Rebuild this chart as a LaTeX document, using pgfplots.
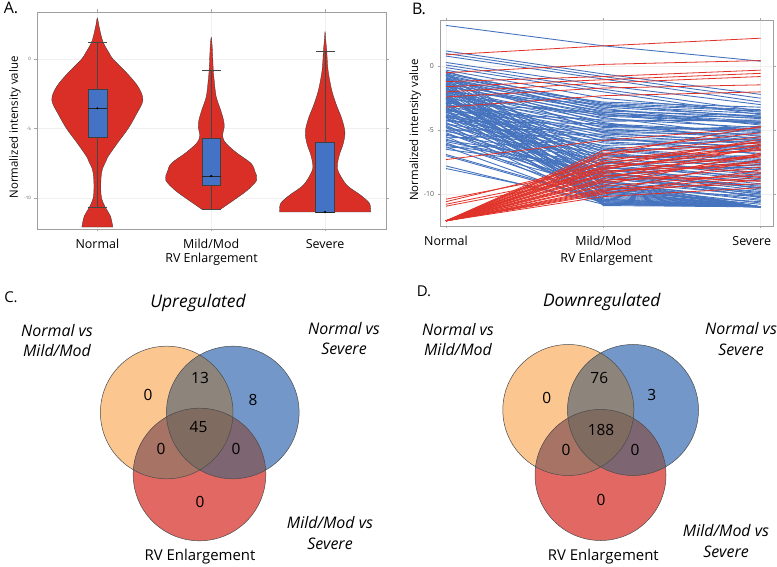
\documentclass[border=0pt]{standalone}
\usepackage{pgfplots}
\pgfplotsset{compat=1.18}
\usepgfplotslibrary{statistics}
\usepackage{pgfplotstable}
\usepackage{fontspec}
\setmainfont{Open Sans}

\definecolor{vred}{RGB}{217,47,39}
\definecolor{bblue}{RGB}{68,114,196}
\definecolor{lblue}{RGB}{70,115,190}
\definecolor{lred}{RGB}{224,50,40}
\definecolor{vO}{RGB}{252,198,145}
\definecolor{vB}{RGB}{114,151,200}
\definecolor{vR}{RGB}{226,105,99}
\definecolor{vOB}{RGB}{141,133,124}
\definecolor{vOR}{RGB}{166,115,100}
\definecolor{vBR}{RGB}{125,101,114}
\definecolor{vOBR}{RGB}{127,107,96}

% Panel B: one row per protein (Normal, Mild/Mod, Severe)
\pgfplotstableread{
n m s
3.2 1.6 0.4
1.2 -0.6 -2.2
1.0 -0.8 -2.5
0.8 -1.0 -2.8
0.3 -1.5 -3.0
0.1 -1.8 -3.5
-0.1 -2.0 -3.8
-0.3 -2.5 -3.6
-0.5 -3.0 -4.0
-0.7 -3.2 -3.9
-0.9 -3.4 -4.1
-1.0 -3.6 -4.3
-1.2 -3.3 -4.6
-1.3 -3.9 -4.4
-1.5 -4.1 -4.8
-1.6 -3.7 -5.0
-1.8 -4.3 -4.2
-1.9 -4.6 -5.2
-2.1 -4.0 -5.5
-2.2 -4.8 -4.9
-2.4 -5.0 -5.6
-2.5 -4.4 -5.9
-2.7 -5.2 -5.3
-2.8 -5.4 -6.1
-3.0 -4.7 -5.0
-3.1 -5.6 -6.4
-3.3 -5.8 -5.7
-3.4 -5.1 -4.7
-3.6 -6.0 -6.6
-3.8 -6.2 -5.8
-4.0 -5.5 -6.9
-4.2 -6.4 -7.2
-4.5 -6.6 -6.2
-4.8 -6.9 -7.5
-5.1 -7.1 -7.0
-5.4 -7.3 -7.8
-5.8 -7.6 -8.1
-6.2 -7.9 -8.6
-6.5 -8.1 -9.0
-0.8 -7.8 -9.6
-1.0 -8.2 -10.3
-1.1 -8.9 -11.0
-1.3 -9.3 -11.0
-1.4 -9.8 -10.6
-1.6 -10.4 -11.0
-1.7 -8.5 -9.9
-1.9 -9.0 -11.0
-2.0 -9.6 -10.8
-2.2 -10.0 -11.0
-2.3 -10.6 -11.0
-2.5 -8.7 -10.2
-2.6 -9.2 -11.0
-2.8 -9.9 -11.0
-2.9 -10.7 -11.0
-3.1 -8.4 -9.5
-3.2 -9.4 -11.0
-3.4 -10.2 -11.0
-3.5 -10.8 -11.0
-3.7 -9.1 -10.4
-3.9 -9.7 -11.0
-4.0 -10.5 -11.0
-4.2 -8.8 -9.8
-4.4 -9.5 -11.0
-4.6 -10.3 -11.0
-4.8 -10.8 -11.0
-5.0 -9.0 -10.1
-5.2 -9.8 -11.0
-5.5 -10.6 -11.0
-5.7 -9.3 -10.7
-6.0 -10.1 -11.0
-6.3 -10.7 -11.0
-6.9 -10.4 -11.0
-7.8 -10.8 -11.0
-8.0 -10.6 -11.0
-0.5 -7.5 -8.8
-1.5 -7.9 -9.2
-2.4 -8.1 -9.4
-3.6 -7.7 -8.9
-4.5 -8.3 -9.7
-1.2 -10.9 -11.0
-2.1 -10.75 -11.0
-0.6 -8.6 -10.0
-2.7 -7.4 -8.5
-3.3 -8.0 -7.9
-4.1 -7.5 -8.3
-5.3 -8.6 -9.3
-6.1 -9.5 -10.2
-0.9 -6.8 -7.6
-1.7 -6.5 -7.3
-2.6 -6.9 -8.0
-3.9 -7.0 -7.7
-0.6 -2.9 -3.4
-0.8 -3.1 -3.7
-1.1 -2.8 -3.2
-1.4 -3.5 -3.9
-2.0 -3.0 -3.5
-2.3 -3.8 -4.0
-2.9 -3.6 -4.5
-3.5 -4.2 -4.3
-4.3 -4.5 -5.1
-5.0 -4.9 -5.4
-5.6 -5.3 -5.8
-6.4 -5.7 -6.3
-1.0 -4.5 -5.7
-0.7 -5.2 -6.0
-1.8 -5.9 -6.5
-2.6 -6.3 -6.8
-0.4 -3.8 -4.4
-7.0 -10.5 -11.0
-1.5 -9.1 -10.5
-2.4 -9.7 -11.0
-3.0 -10.4 -11.0
-3.8 -8.6 -10.0
-4.7 -9.9 -11.0
-1.9 -7.2 -8.4
-3.4 -6.6 -7.4
-5.9 -8.3 -9.5
}\bluetab

\pgfplotstableread{
n m s
0.9 1.6 2.2
-0.5 0.15 0.45
-1.2 -0.8 -0.3
-1.6 -1.05 -0.55
-2.0 -1.3 -0.8
-2.4 -1.7 -1.45
-3.2 -2.3 -2.0
-12.1 -10.2 -9.5
-12.1 -9.9 -8.9
-12.1 -9.6 -9.2
-12.1 -9.4 -8.4
-12.1 -9.1 -7.9
-12.1 -8.9 -8.6
-12.1 -8.6 -7.4
-12.1 -8.4 -6.9
-12.1 -8.2 -7.7
-12.1 -8.0 -6.5
-12.1 -7.8 -7.1
-12.1 -7.6 -6.2
-12.1 -7.4 -5.9
-12.1 -7.2 -6.6
-12.1 -7.0 -5.5
-12.1 -6.8 -6.0
-12.1 -6.6 -5.2
-12.1 -9.8 -7.3
-12.1 -8.8 -6.3
-12.1 -7.9 -5.7
-12.1 -9.3 -6.8
-12.1 -10.0 -8.1
-12.1 -8.5 -9.0
-12.1 -7.5 -8.3
-12.1 -6.9 -4.7
-12.1 -9.0 -7.0
-12.1 -8.1 -6.1
-12.1 -9.7 -8.7
-10.4 -8.0 -6.4
-10.6 -7.6 -5.9
-10.8 -8.3 -7.0
-10.95 -8.6 -7.5
-7.3 -5.8 -4.8
}\redtab

\pgfplotstablegetrowsof{\bluetab}
\pgfmathtruncatemacro{\nblue}{\pgfplotsretval-1}
\pgfplotstablegetrowsof{\redtab}
\pgfmathtruncatemacro{\nred}{\pgfplotsretval-1}

\pgfplotsset{
  gg/.style={
    scale only axis, anchor=south west,
    axis line style={draw=gray!75, line width=0.7bp},
    xmajorgrids, ymajorgrids,
    major grid style={draw=gray!12, line width=0.5bp},
    tick style={draw=gray!70, line width=0.5bp},
    tick align=outside, major tick length=2.5bp,
    xtick={1,2,3},
    ytick={-10,-5,0}, yticklabels={-10,-5,0},
    yticklabel style={text=gray!70!black},
    xticklabel style={font=\fontsize{12.5}{14}\selectfont, text=black, yshift=-4bp},
    label style={font=\fontsize{11.5}{13}\selectfont},
    xlabel={RV Enlargement}, ylabel={Normalized intensity value},
  },
  venn/.style={scale only axis, anchor=south west, axis lines=none, clip=false,
    y dir=reverse, ymin=270, ymax=567},
}

\begin{document}
\begin{tikzpicture}
\useasboundingbox (0,0) rectangle (777bp,567bp);

% ---------------- Panel A ----------------
\begin{axis}[gg, at={(37bp,338bp)}, width=349bp, height=217bp,
  xmin=0.47, xmax=3.535, ymin=-12.23, ymax=3.41,
  xticklabels={Normal,Mild/Mod,Severe},
  yticklabel style={font=\fontsize{4.5}{5}\selectfont},
  xlabel style={at={(axis description cs:0.5,-0.14)}, anchor=center, font=\fontsize{12.5}{14}\selectfont},
  ylabel style={at={(axis description cs:-0.063,0.468)}, anchor=center},
  violin/.style={fill=vred, draw=gray!40!black, line width=0.3bp, smooth, tension=0.55},
  boxplot/draw direction=y,
  boxplot/box extend=0.166, boxplot/whisker extend=0.166,
  boxplot/every box/.style={fill=bblue, draw=gray!50!black, line width=0.35bp},
  boxplot/every whisker/.style={draw=gray!55!black, line width=0.35bp},
  boxplot/every median/.style={draw=black!85, line width=0.5bp},
]
\addplot[violin] coordinates {
 (1.136,-12.09) (1.115,-11.3) (1.07,-10.67) (1.037,-10.0) (1.03,-9.3) (1.033,-8.5)
 (1.045,-7.9) (1.08,-7.27) (1.095,-7.0) (1.18,-6.0) (1.27,-5.0) (1.34,-4.0) (1.40,-2.95)
 (1.36,-2.0) (1.26,-1.0) (1.14,0) (1.10,0.5) (1.05,1.25) (1.025,2.0) (1.012,2.5) (1.0,2.98)
 (0.988,2.5) (0.975,2.0) (0.95,1.25) (0.90,0.5) (0.86,0) (0.74,-1.0) (0.64,-2.0) (0.60,-2.95)
 (0.66,-4.0) (0.73,-5.0) (0.82,-6.0) (0.905,-7.0) (0.92,-7.27) (0.955,-7.9) (0.967,-8.5)
 (0.97,-9.3) (0.963,-10.0) (0.93,-10.67) (0.885,-11.3) (0.864,-12.09)} -- cycle;
\addplot[violin] coordinates {
 (2.08,-10.82) (2.20,-10.14) (2.32,-9.42) (2.40,-8.70) (2.385,-8.1) (2.35,-7.5) (2.23,-6.78)
 (2.16,-6.3) (2.115,-5.9) (2.10,-5.45) (2.114,-4.9) (2.108,-4.38) (2.083,-3.66) (2.044,-2.7)
 (2.026,-1.5) (2.018,-0.77) (2.014,0) (2.008,1.0) (2.0,1.59)
 (1.992,1.0) (1.986,0) (1.982,-0.77) (1.974,-1.5) (1.956,-2.7) (1.917,-3.66) (1.892,-4.38)
 (1.886,-4.9) (1.90,-5.45) (1.885,-5.9) (1.84,-6.3) (1.77,-6.78) (1.65,-7.5) (1.615,-8.1)
 (1.60,-8.70) (1.68,-9.42) (1.80,-10.14) (1.92,-10.82)} -- cycle;
\addplot[violin] coordinates {
 (3.40,-11.0) (3.39,-10.38) (3.31,-9.78) (3.19,-9.06) (3.117,-8.10) (3.108,-7.62) (3.125,-6.90)
 (3.16,-6.06) (3.174,-5.22) (3.146,-4.26) (3.10,-3.30) (3.058,-2.21) (3.026,-0.77) (3.015,0.58)
 (3.007,1.3) (3.0,1.99)
 (2.993,1.3) (2.985,0.58) (2.974,-0.77) (2.942,-2.21) (2.90,-3.30) (2.854,-4.26) (2.826,-5.22)
 (2.84,-6.06) (2.875,-6.90) (2.892,-7.62) (2.883,-8.10) (2.81,-9.06) (2.69,-9.78) (2.61,-10.38)
 (2.60,-11.0)} -- cycle;
\addplot[boxplot prepared={draw position=1, lower whisker=-10.67, lower quartile=-5.58,
  median=-3.53, upper quartile=-2.16, upper whisker=1.22}] coordinates {};
\addplot[boxplot prepared={draw position=2, lower whisker=-10.82, lower quartile=-9.07,
  median=-8.41, upper quartile=-5.70, upper whisker=-0.79}] coordinates {};
\addplot[boxplot prepared={draw position=3, lower whisker=-11.0, lower quartile=-11.0,
  median=-11.0, upper quartile=-5.94, upper whisker=0.58}] coordinates {};
\addplot[only marks, mark=*, mark size=0.8bp, black] coordinates {(1,-3.53) (2,-8.41) (3,-11.0)};
\end{axis}

% ---------------- Panel B ----------------
\begin{axis}[gg, at={(440bp,341bp)}, width=333bp, height=205.3bp,
  xmin=0.962, xmax=3.078, ymin=-12.5, ymax=3.57,
  xticklabels={Normal,Mild/Mod,\kern-18bp Severe},
  yticklabel style={font=\fontsize{7}{8}\selectfont},
  xlabel style={at={(axis description cs:0.5,-0.16)}, anchor=center, font=\fontsize{12.5}{14}\selectfont},
  ylabel style={at={(axis description cs:-0.075,0.468)}, anchor=center},
  bl/.style={draw=lblue, line width=0.9bp},
  rl/.style={draw=lred, line width=0.8bp},
]
\pgfplotsinvokeforeach{0,...,\nblue}{
  \pgfplotstablegetelem{#1}{n}\of\bluetab \let\vn\pgfplotsretval
  \pgfplotstablegetelem{#1}{m}\of\bluetab \let\vm\pgfplotsretval
  \pgfplotstablegetelem{#1}{s}\of\bluetab \let\vs\pgfplotsretval
  \edef\tmp{\noexpand\addplot[bl] coordinates {(1,\vn) (2,\vm) (3,\vs)};}\tmp
}
\pgfplotsinvokeforeach{0,...,\nred}{
  \pgfplotstablegetelem{#1}{n}\of\redtab \let\vn\pgfplotsretval
  \pgfplotstablegetelem{#1}{m}\of\redtab \let\vm\pgfplotsretval
  \pgfplotstablegetelem{#1}{s}\of\redtab \let\vs\pgfplotsretval
  \edef\tmp{\noexpand\addplot[rl] coordinates {(1,\vn) (2,\vm) (3,\vs)};}\tmp
}
\end{axis}

% ---------------- Panel C ----------------
\begin{axis}[venn, at={(0bp,0bp)}, width=390bp, height=297bp, xmin=0, xmax=390]
\def\rr{66.3bp}
\fill[vO] (axis cs:166.7,412.5) circle[radius=\rr];
\fill[vB] (axis cs:232.8,412.5) circle[radius=\rr];
\fill[vR] (axis cs:199.5,474.5) circle[radius=\rr];
\begin{scope}\clip (axis cs:166.7,412.5) circle[radius=\rr]; \fill[vOB] (axis cs:232.8,412.5) circle[radius=\rr];\end{scope}
\begin{scope}\clip (axis cs:166.7,412.5) circle[radius=\rr]; \fill[vOR] (axis cs:199.5,474.5) circle[radius=\rr];\end{scope}
\begin{scope}\clip (axis cs:232.8,412.5) circle[radius=\rr]; \fill[vBR] (axis cs:199.5,474.5) circle[radius=\rr];\end{scope}
\begin{scope}\clip (axis cs:166.7,412.5) circle[radius=\rr]; \clip (axis cs:232.8,412.5) circle[radius=\rr]; \fill[vOBR] (axis cs:199.5,474.5) circle[radius=\rr];\end{scope}
\draw[black!70, line width=0.5bp] (axis cs:166.7,412.5) circle[radius=\rr];
\draw[black!70, line width=0.5bp] (axis cs:232.8,412.5) circle[radius=\rr];
\draw[black!70, line width=0.5bp] (axis cs:199.5,474.5) circle[radius=\rr];
\begin{scope}[every node/.style={font=\fontsize{15.5}{17}\selectfont}]
\node at (axis cs:148,395) {0};
\node at (axis cs:200,378) {13};
\node at (axis cs:253,400) {8};
\node at (axis cs:198.5,427) {45};
\node at (axis cs:161,449) {0};
\node at (axis cs:236,449) {0};
\node at (axis cs:200,502) {0};
\end{scope}
\node[font=\fontsize{17.5}{19}\selectfont\itshape] at (axis cs:198,303) {Upregulated};
\node[font=\fontsize{16}{21}\selectfont\itshape, align=center] at (axis cs:57,340.5) {Normal vs\\Mild/Mod};
\node[font=\fontsize{16}{21}\selectfont\itshape, align=center] at (axis cs:344,338.5) {Normal vs\\Severe};
\node[font=\fontsize{16}{21}\selectfont\itshape, align=center] at (axis cs:330,533) {Mild/Mod vs\\Severe};
\node[font=\fontsize{15}{17}\selectfont] at (axis cs:200,557) {RV Enlargement};
\end{axis}

% ---------------- Panel D ----------------
\begin{axis}[venn, at={(385bp,0bp)}, width=392bp, height=297bp, xmin=385, xmax=777]
\def\rr{65.5bp}
\fill[vO] (axis cs:568.3,410) circle[radius=\rr];
\fill[vB] (axis cs:633,410) circle[radius=\rr];
\fill[vR] (axis cs:600.5,475) circle[radius=\rr];
\begin{scope}\clip (axis cs:568.3,410) circle[radius=\rr]; \fill[vOB] (axis cs:633,410) circle[radius=\rr];\end{scope}
\begin{scope}\clip (axis cs:568.3,410) circle[radius=\rr]; \fill[vOR] (axis cs:600.5,475) circle[radius=\rr];\end{scope}
\begin{scope}\clip (axis cs:633,410) circle[radius=\rr]; \fill[vBR] (axis cs:600.5,475) circle[radius=\rr];\end{scope}
\begin{scope}\clip (axis cs:568.3,410) circle[radius=\rr]; \clip (axis cs:633,410) circle[radius=\rr]; \fill[vOBR] (axis cs:600.5,475) circle[radius=\rr];\end{scope}
\draw[black!70, line width=0.5bp] (axis cs:568.3,410) circle[radius=\rr];
\draw[black!70, line width=0.5bp] (axis cs:633,410) circle[radius=\rr];
\draw[black!70, line width=0.5bp] (axis cs:600.5,475) circle[radius=\rr];
\begin{scope}[every node/.style={font=\fontsize{15.5}{17}\selectfont}]
\node at (axis cs:546.7,398.3) {0};
\node at (axis cs:599.3,378.3) {76};
\node at (axis cs:651.7,395) {3};
\node at (axis cs:601,430) {188};
\node at (axis cs:566,450) {0};
\node at (axis cs:635,450) {0};
\node at (axis cs:601,500) {0};
\end{scope}
\node[font=\fontsize{17.5}{19}\selectfont\itshape] at (axis cs:601.7,301.7) {Downregulated};
\node[font=\fontsize{16}{21}\selectfont\itshape, align=center] at (axis cs:458,339.5) {Normal vs\\Mild/Mod};
\node[font=\fontsize{16}{21}\selectfont\itshape, align=center] at (axis cs:741,339) {Normal vs\\Severe};
\node[font=\fontsize{16}{21}\selectfont\itshape, align=center] at (axis cs:726,541) {Mild/Mod vs\\Severe};
\node[font=\fontsize{15}{17}\selectfont] at (axis cs:603.3,556.7) {RV Enlargement};
\end{axis}

% panel letters
\node[font=\fontsize{16}{18}\selectfont] at (11bp,559bp) {A.};
\node[font=\fontsize{16}{18}\selectfont] at (419bp,558bp) {B.};
\node[font=\fontsize{15}{17}\selectfont] at (11bp,270bp) {C.};
\node[font=\fontsize{15}{17}\selectfont] at (424bp,276bp) {D.};
\end{tikzpicture}
\end{document}
